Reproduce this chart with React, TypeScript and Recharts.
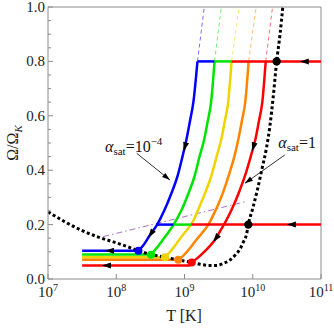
import { ComposedChart, Line, XAxis, YAxis, ReferenceLine, ReferenceDot } from "recharts"

type P = [number, number]

// x = log10(T / K), y = Omega / Omega_K
const xTicks = [7, 8, 9, 10, 11]
const yTicks = [0, 0.05, 0.1, 0.15, 0.2, 0.25, 0.3, 0.35, 0.4, 0.45, 0.5, 0.55, 0.6, 0.65, 0.7, 0.75, 0.8, 0.85, 0.9, 0.95, 1]

// spin-down at the bottom, from the dot on the dotted curve to 10^7.5 K
const blueFloor: P[] = [[7.5, 0.104], [8.325, 0.104]]
const greenFloor: P[] = [[7.5, 0.09], [8.51, 0.09]]
const yellowFloor: P[] = [[7.5, 0.08], [8.714, 0.08]]
const orangeFloor: P[] = [[7.5, 0.071], [8.909, 0.071]]
const redFloor: P[] = [[7.5, 0.05], [9.07, 0.05], [9.105, 0.061]]

// rising branches for the five alpha_sat values (blue = 1e-4 ... red = 1)
const blueRise: P[] = [
  [8.325, 0.104], [8.4, 0.125], [8.49, 0.16], [8.59, 0.196], [8.7, 0.25], [8.8, 0.31],
  [8.9, 0.38], [8.97, 0.45], [9.03, 0.515], [9.08, 0.58], [9.13, 0.65], [9.19, 0.8],
]
const greenRise: P[] = [
  [8.51, 0.09], [8.58, 0.11], [8.67, 0.14], [8.76, 0.17], [8.84, 0.2], [8.95, 0.25], [9.05, 0.31],
  [9.15, 0.38], [9.22, 0.45], [9.29, 0.515], [9.34, 0.58], [9.39, 0.65], [9.44, 0.8],
]
const yellowRise: P[] = [
  [8.714, 0.08], [8.79, 0.1], [8.88, 0.13], [8.97, 0.16], [9.05, 0.185], [9.12, 0.21], [9.2, 0.255],
  [9.3, 0.315], [9.4, 0.385], [9.47, 0.45], [9.54, 0.515], [9.59, 0.58], [9.64, 0.65], [9.69, 0.8],
]
const orangeRise: P[] = [
  [8.909, 0.071], [8.98, 0.085], [9.07, 0.11], [9.16, 0.14], [9.26, 0.17], [9.35, 0.2], [9.45, 0.25],
  [9.56, 0.315], [9.66, 0.39], [9.73, 0.45], [9.79, 0.515], [9.84, 0.58], [9.89, 0.65], [9.94, 0.8],
]
const redRise: P[] = [
  [9.105, 0.061], [9.18, 0.075], [9.27, 0.095], [9.36, 0.118], [9.45, 0.145],
  [9.53, 0.18], [9.6, 0.21], [9.7, 0.26], [9.8, 0.32], [9.9, 0.39], [9.97, 0.45], [10.04, 0.515],
  [10.09, 0.58], [10.14, 0.65], [10.19, 0.8],
]

// horizontal spin-down starts at 0.8 and 0.2
const top08Blue: P[] = [[9.19, 0.8], [9.44, 0.8]]
const top08Green: P[] = [[9.44, 0.8], [9.69, 0.8]]
const top08Red: P[] = [[9.69, 0.8], [11, 0.8]]
const mid02Blue: P[] = [[8.59, 0.2], [8.84, 0.2]]
const mid02Green: P[] = [[8.84, 0.2], [9.1, 0.2]]
const mid02Red: P[] = [[9.1, 0.2], [11, 0.2]]

// thin dashed continuations above 0.8
const dashTops: P[][] = [
  [[9.19, 0.8], [9.29, 1.0]],
  [[9.44, 0.8], [9.54, 1.0]],
  [[9.69, 0.8], [9.8, 1.0]],
  [[9.94, 0.8], [10.05, 1.0]],
  [[10.19, 0.8], [10.29, 1.0]],
]

const dashDot: P[] = [[7.81, 0.156], [9.89, 0.284]]

const blackDotted: P[] = [
  [7.0, 0.247], [7.25, 0.21], [7.5, 0.178], [7.75, 0.153], [8.0, 0.133], [8.15, 0.12], [8.325, 0.104],
  [8.51, 0.09], [8.714, 0.08], [8.909, 0.07], [9.105, 0.061], [9.23, 0.054], [9.35, 0.05], [9.47, 0.05],
  [9.58, 0.058], [9.667, 0.07], [9.75, 0.09], [9.813, 0.11], [9.87, 0.14], [9.91, 0.165], [9.935, 0.2],
  [10.0, 0.26], [10.07, 0.33], [10.14, 0.41], [10.2, 0.48], [10.25, 0.56], [10.3, 0.67], [10.35, 0.8],
  [10.4, 0.9], [10.44, 1.0],
]

const colourDots: P[] = [[8.325, 0.104], [8.51, 0.089], [8.714, 0.08], [8.909, 0.071], [9.105, 0.061]]
const blackDots: P[] = [[9.935, 0.2], [10.35, 0.8]]

// arrowheads on the tracks: tip position and screen direction (deg)
const arrowTips: P[] = [
  [7.835, 0.104], [7.79, 0.05], [8.47, 0.152], [9.42, 0.136], [8.99, 0.47], [9.99, 0.47], [10.69, 0.8], [10.5, 0.2],
]
const arrowDirs = [180, 180, 124, 127, 105, 107, 180, 180]

const annoLowLine: P[] = [[8.3, 0.462], [8.787, 0.364]]
const annoHighLine: P[] = [[10.47, 0.456], [9.886, 0.352]]
const annoLowText: P = [7.835, 0.468]
const annoHighText: P = [10.374, 0.48]

const trackColours = ["#0000ff", "#00e400", "#f0d400", "#ff8400", "#ff0000"]
const axisColour = "#8c8c8c"
const serif = "Liberation Serif"

const pts = (p: P[]) => p.map(([x, y]) => ({ x, y }))

function XTick(props: any) {
  const { x, y, payload } = props
  return (
    <g>
      <line x1={x} x2={x} y1={y} y2={y - 5} stroke={axisColour} />
      <text x={x} y={y + 18} textAnchor="middle" fontSize={15} fill="#222" fontFamily={serif}>
        10<tspan dy={-6} fontSize={10}>{payload.value}</tspan>
      </text>
    </g>
  )
}

function YTick(props: any) {
  const { x, y, payload } = props
  const v = payload.value as number
  const major = Math.round(v * 100) % 20 === 0
  return (
    <g>
      <line x1={x} x2={x + (major ? 5 : 3)} y1={y} y2={y} stroke={axisColour} />
      {major && (
        <text x={x - 3} y={y + 5} textAnchor="end" fontSize={15} fill="#222" fontFamily={serif}>
          {v.toFixed(1)}
        </text>
      )}
    </g>
  )
}

const arrowHead = (angle: number, len = 9, half = 3) => (p: any) => (
  <polygon
    points={`0,0 ${-len},${-half} ${-len},${half}`}
    transform={`translate(${p.cx},${p.cy}) rotate(${angle})`}
    fill="#000"
  />
)

const alphaLabel = (exp: string | null) => (p: any) => (
  <text x={p.cx} y={p.cy} fontSize={16} fill="#111" fontFamily={serif}>
    <tspan fontStyle="italic">α</tspan>
    <tspan dy={3} fontSize={11}>sat</tspan>
    <tspan dy={-3}>=1{exp ? "0" : ""}</tspan>
    {exp && <tspan dy={-7} fontSize={11}>{exp}</tspan>}
  </text>
)

function track(key: string, data: P[], colour: string, width = 2.5, curve: "linear" | "monotone" = "linear") {
  return (
    <Line
      key={key}
      data={pts(data)}
      dataKey="y"
      type={curve}
      stroke={colour}
      strokeWidth={width}
      dot={false}
      activeDot={false}
      isAnimationActive={false}
    />
  )
}

export default function App() {
  return (
    <div style={{ position: "absolute", left: 0, top: 0, fontFamily: serif }}>
      <ComposedChart width={334} height={328} margin={{ top: 7, right: 13, bottom: 19, left: 8 }}>
        <XAxis
          type="number"
          dataKey="x"
          domain={[7, 11]}
          ticks={xTicks}
          interval={0}
          allowDataOverflow
          height={30}
          tickSize={0}
          tickMargin={0}
          tickLine={false}
          axisLine={{ stroke: axisColour }}
          tick={<XTick />}
        />
        <YAxis
          type="number"
          dataKey="y"
          domain={[0, 1]}
          ticks={yTicks}
          interval={0}
          allowDataOverflow
          width={40}
          tickSize={0}
          tickMargin={0}
          tickLine={false}
          axisLine={{ stroke: axisColour }}
          tick={<YTick />}
        />
        <ReferenceLine y={1} stroke={axisColour} />
        <ReferenceLine x={11} stroke={axisColour} />

        {dashTops.map((d, i) => (
          <Line
            key={"dash" + i}
            data={pts(d)}
            dataKey="y"
            stroke={trackColours[i]}
            strokeOpacity={0.55}
            strokeWidth={1}
            strokeDasharray="4 3"
            dot={false}
            activeDot={false}
            isAnimationActive={false}
          />
        ))}
        <Line
          data={pts(dashDot)}
          dataKey="y"
          stroke="#b070c8"
          strokeWidth={1}
          strokeDasharray="6 3 1.5 3"
          dot={false}
          activeDot={false}
          isAnimationActive={false}
        />

        {track("blueF", blueFloor, trackColours[0])}
        {track("greenF", greenFloor, trackColours[1])}
        {track("yellowF", yellowFloor, trackColours[2])}
        {track("orangeF", orangeFloor, trackColours[3])}
        {track("redF", redFloor, trackColours[4])}
        {track("blue", blueRise, trackColours[0], 2.5, "monotone")}
        {track("green", greenRise, trackColours[1], 2.5, "monotone")}
        {track("yellow", yellowRise, trackColours[2], 2.5, "monotone")}
        {track("orange", orangeRise, trackColours[3], 2.5, "monotone")}
        {track("red", redRise, trackColours[4], 2.5, "monotone")}
        {track("b02", mid02Blue, trackColours[0])}
        {track("g02", mid02Green, trackColours[1])}
        {track("r02", mid02Red, trackColours[4])}
        {track("b08", top08Blue, trackColours[0])}
        {track("g08", top08Green, trackColours[1])}
        {track("r08", top08Red, trackColours[4])}

        <Line
          data={pts(blackDotted)}
          dataKey="y"
          type="monotone"
          stroke="#000"
          strokeWidth={3}
          strokeDasharray="3 2.5"
          dot={false}
          activeDot={false}
          isAnimationActive={false}
        />

        {track("annoLow", annoLowLine, "#000", 0.8)}
        {track("annoHigh", annoHighLine, "#000", 0.8)}

        {colourDots.map(([x, y], i) => (
          <ReferenceDot key={"cd" + i} x={x} y={y} r={4} fill={trackColours[i]} stroke="none" />
        ))}
        {blackDots.map(([x, y], i) => (
          <ReferenceDot key={"bd" + i} x={x} y={y} r={4.2} fill="#000" stroke="none" />
        ))}
        {arrowTips.map(([x, y], i) => (
          <ReferenceDot key={"ar" + i} x={x} y={y} r={1} shape={arrowHead(arrowDirs[i])} />
        ))}
        <ReferenceDot x={annoLowLine[1][0]} y={annoLowLine[1][1]} r={1} shape={arrowHead(38.7, 8, 2.6)} />
        <ReferenceDot x={annoHighLine[1][0]} y={annoHighLine[1][1]} r={1} shape={arrowHead(144.7, 8, 2.6)} />
        <ReferenceDot x={annoLowText[0]} y={annoLowText[1]} r={1} shape={alphaLabel("−4")} />
        <ReferenceDot x={annoHighText[0]} y={annoHighText[1]} r={1} shape={alphaLabel(null)} />
      </ComposedChart>
      <svg width={334} height={328} style={{ position: "absolute", left: 0, top: 0, pointerEvents: "none" }}>
        <text
          transform="translate(18,143) rotate(-90)"
          textAnchor="middle"
          fontSize={16}
          fill="#222"
          fontFamily={serif}
        >
          Ω/Ω<tspan dy={4} fontSize={11} fontStyle="italic">K</tspan>
        </text>
        <text x={184} y={321} textAnchor="middle" fontSize={16} fill="#222" fontFamily={serif}>
          T [K]
        </text>
      </svg>
    </div>
  )
}
